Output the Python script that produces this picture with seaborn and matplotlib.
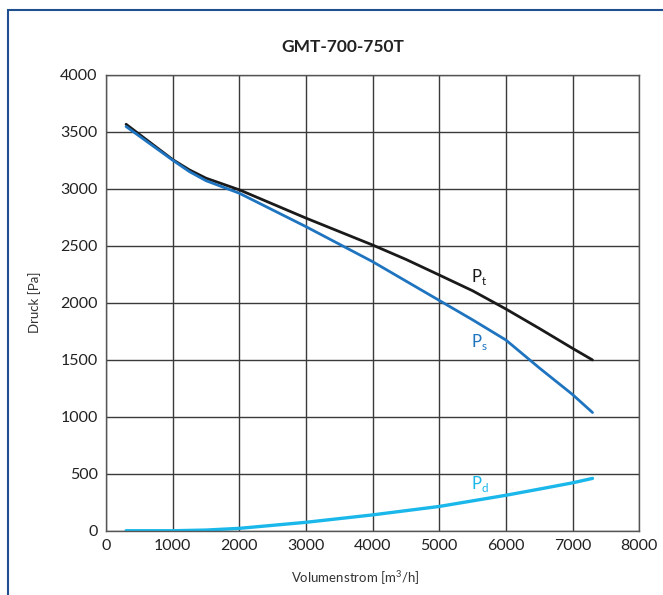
import pandas as pd
import numpy as np
import matplotlib
matplotlib.use('Agg')
import matplotlib.pyplot as plt
import seaborn as sns
from matplotlib.patches import Rectangle

# curve points
flow_pt = [300, 1000, 1250, 1500, 2000, 3000, 4000, 4500, 5000, 5500, 6000, 6500, 7000, 7300]
p_t = [3565, 3255, 3165, 3092, 2990, 2742, 2506, 2380, 2243, 2105, 1945, 1775, 1600, 1498]

flow_ps = [300, 1000, 1250, 1500, 2000, 3000, 4000, 4500, 5000, 5500, 6000, 6500, 7000, 7300]
p_s = [3545, 3250, 3150, 3070, 2960, 2667, 2360, 2190, 2020, 1850, 1673, 1429, 1195, 1037]

flow_pd = [300, 1000, 1500, 2000, 3000, 4000, 5000, 6000, 6500, 7000, 7300]
p_d = [0, 0, 6, 21, 74, 139, 213, 311, 365, 420, 459]

sns.set_style('white')
plt.rcParams['font.family'] = ['Lato', 'DejaVu Sans']

df_t = pd.DataFrame({'flow': flow_pt, 'p': p_t})
df_s = pd.DataFrame({'flow': flow_ps, 'p': p_s})
df_d = pd.DataFrame({'flow': flow_pd, 'p': p_d})

fig = plt.figure(figsize=(6.63, 5.95), dpi=100)
ax = fig.add_axes([0.16, 0.108, 0.804, 0.7665])

sns.lineplot(data=df_t, x='flow', y='p', ax=ax, color='#1a1a1a', lw=2.0)
sns.lineplot(data=df_s, x='flow', y='p', ax=ax, color='#1f74c0', lw=2.0)
sns.lineplot(data=df_d, x='flow', y='p', ax=ax, color='#19b7ea', lw=2.4)

ax.set_xlim(0, 8000)
ax.set_ylim(0, 4000)
ax.set_xticks(range(0, 8001, 1000))
ax.set_yticks(range(0, 4001, 500))
ax.grid(True, color='#3a3a3a', lw=1.0)
for s in ax.spines.values():
    s.set_color('#555555')
    s.set_linewidth(1.0)
ax.tick_params(labelsize=11.5, length=0, pad=6, colors='#222222')

ax.set_xlabel('')
ax.set_ylabel('')
fig.text(355 / 663, 1 - 578 / 595, 'Volumenstrom [m$^\\mathregular{3}$/h]', fontsize=9.5,
         color='#333333', ha='center', va='center')
fig.text(35 / 663, 1 - 302 / 595, 'Druck [Pa]', fontsize=9.5, color='#333333',
         ha='center', va='center', rotation=90)

ax.text(5475, 2228, 'P$_\\mathregular{t}$', color='#1a1a1a', fontsize=12, ha='left', va='center')
ax.text(5475, 1658, 'P$_\\mathregular{s}$', color='#1f74c0', fontsize=12, ha='left', va='center')
ax.text(5475, 410, 'P$_\\mathregular{d}$', color='#19b7ea', fontsize=12, ha='left', va='center')

fig.text(343 / 663, 0.921, 'GMT-700-750T', ha='center', va='center', fontsize=12.5,
         fontweight='bold', color='#222222')

fig.patches.append(Rectangle((8 / 663, -0.1), 1.2, 1 - 10 / 595 + 0.1, transform=fig.transFigure,
                             fill=False, edgecolor='#1f4f8f', lw=1.5))

plt.savefig('out.png', dpi=100)
